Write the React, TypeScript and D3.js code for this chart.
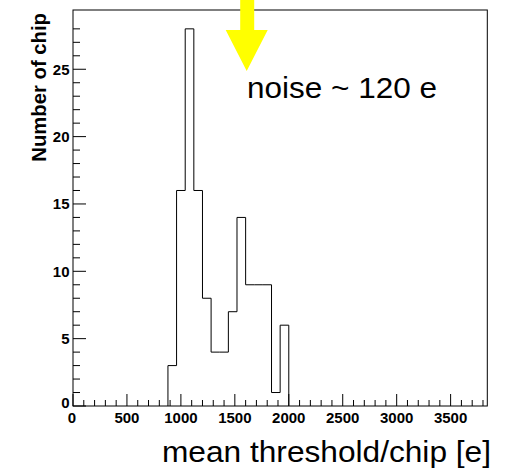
import React from "react";
import * as d3 from "d3";

// ---- data ----
const binLow = [880, 960, 1040, 1120, 1200, 1280, 1360, 1440, 1520, 1600, 1680, 1760, 1840, 1920];
const binHigh = [960, 1040, 1120, 1200, 1280, 1360, 1440, 1520, 1600, 1680, 1760, 1840, 1920, 2000];
const counts = [3, 16, 28, 16, 8, 4, 4, 7, 14, 9, 9, 9, 1, 6];
const xMajorTicks = [0, 500, 1000, 1500, 2000, 2500, 3000, 3500];
const yMajorTicks = [0, 5, 10, 15, 20, 25];
const xDomain = [0, 3840];
const yDomain = [0, 29.4];
const arrowX = 1610;
const xTitle = "mean threshold/chip [e]";
const yTitle = "Number of chip";
const noteText = "noise ~ 120 e";

const W = 506;
const H = 472;
const L = 73, R = 487.3, T = 10, B = 406;

export default function App() {
  const x = d3.scaleLinear().domain(xDomain).range([L, R]);
  const y = d3.scaleLinear().domain(yDomain).range([B, T]);

  const xMinor = d3.range(0, 3801, 100).filter((v) => v % 500 !== 0);
  const yMinor = d3.range(0, 29, 1).filter((v) => v % 5 !== 0);

  // histogram step outline
  const p = d3.path();
  p.moveTo(x(binLow[0]), y(0));
  counts.forEach((c, i) => {
    p.lineTo(x(binLow[i]), y(c));
    p.lineTo(x(binHigh[i]), y(c));
  });
  p.lineTo(x(binHigh[binHigh.length - 1]), y(0));

  const ax = x(arrowX);
  const font = "'Liberation Sans', Arial, Helvetica, sans-serif";

  return (
    <svg
      width={W}
      height={H}
      viewBox={`0 0 ${W} ${H}`}
      style={{ position: "absolute", left: 0, top: 0, display: "block", background: "#fff" }}
    >
      <rect x={0} y={0} width={W} height={H} fill="#fff" />
      {/* frame */}
      <rect x={L} y={T} width={R - L} height={B - T} fill="none" stroke="#000" strokeWidth={1} />
      {/* histogram */}
      <path d={p.toString()} fill="none" stroke="#000" strokeWidth={1} />
      {/* x ticks */}
      {xMajorTicks.map((v) => (
        <line key={"xM" + v} x1={x(v)} x2={x(v)} y1={B} y2={B - 12} stroke="#000" strokeWidth={1} />
      ))}
      {xMinor.map((v) => (
        <line key={"xm" + v} x1={x(v)} x2={x(v)} y1={B} y2={B - 6} stroke="#000" strokeWidth={1} />
      ))}
      {/* y ticks */}
      {yMajorTicks.map((v) => (
        <line key={"yM" + v} x1={L} x2={L + 13} y1={y(v)} y2={y(v)} stroke="#000" strokeWidth={1} />
      ))}
      {yMinor.map((v) => (
        <line key={"ym" + v} x1={L} x2={L + 7} y1={y(v)} y2={y(v)} stroke="#000" strokeWidth={1} />
      ))}
      {/* x tick labels */}
      {xMajorTicks.map((v) => (
        <text
          key={"xl" + v}
          x={v === 0 ? x(v) - 1 : x(v)}
          y={422.7}
          textAnchor="middle"
          fontFamily={font}
          fontWeight="bold"
          fontSize={15}
          fill="#000"
        >
          {v}
        </text>
      ))}
      {/* y tick labels */}
      {yMajorTicks.map((v) => (
        <text
          key={"yl" + v}
          x={69.5}
          y={v === 0 ? 408.3 : y(v) + 5.3}
          textAnchor="end"
          fontFamily={font}
          fontWeight="bold"
          fontSize={15}
          fill="#000"
        >
          {v}
        </text>
      ))}
      {/* y title */}
      <text
        transform={`translate(45.7, 13) rotate(-90)`}
        textAnchor="end"
        fontFamily={font}
        fontWeight="bold"
        fontSize={20.3}
        fill="#000"
      >
        {yTitle}
      </text>
      {/* x title */}
      <text
        x={162}
        y={462.3}
        fontFamily={font}
        fontSize={29}
        textLength={329}
        lengthAdjust="spacingAndGlyphs"
        fill="#000"
      >
        {xTitle}
      </text>
      {/* annotation text */}
      <text
        x={247}
        y={97.7}
        fontFamily={font}
        fontSize={29}
        textLength={190}
        lengthAdjust="spacingAndGlyphs"
        fill="#000"
      >
        {noteText}
      </text>
      {/* yellow arrow */}
      <path
        d={`M${ax - 6.5},0 L${ax + 7.5},0 L${ax + 7.5},30 L${ax + 21},30 L${ax},71 L${ax - 21},30 L${ax - 6.5},30 Z`}
        fill="#ffff00"
        stroke="none"
      />
    </svg>
  );
}
